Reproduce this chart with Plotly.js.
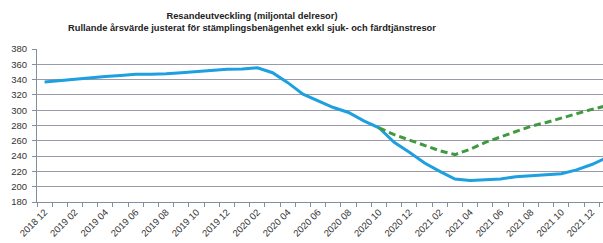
<!DOCTYPE html>
<html><head><meta charset="utf-8">
<script src="https://cdn.plot.ly/plotly-3.0.1.min.js"></script>
<style>html,body{margin:0;padding:0;background:#fff}#c{width:603px;height:243px}</style>
</head><body><div id="c"></div>
<script>
const months = ["2018 12","2019 01","2019 02","2019 03","2019 04","2019 05","2019 06","2019 07","2019 08","2019 09","2019 10","2019 11","2019 12",
"2020 01","2020 02","2020 03","2020 04","2020 05","2020 06","2020 07","2020 08","2020 09","2020 10","2020 11","2020 12",
"2021 01","2021 02","2021 03","2021 04","2021 05","2021 06","2021 07","2021 08","2021 09","2021 10","2021 11","2021 12","2022 01"];
const actual = [337,339,340,342,344,345.5,347,347,347.5,349,350.5,352,353.5,354,355.5,349,336,321,312.5,303.5,297,286,277,258,245,231,220,210,208,209,210,213,214.5,215.5,217,222,229,238];
const forecast = [null,null,null,null,null,null,null,null,null,null,null,null,null,null,null,null,null,null,null,null,null,null,277,268,261,254,247,242,249,258,265,272,279,284,290,296,301,306];
const yTicks = [180,200,220,240,260,280,300,320,340,360,380];

const idx = months.map((_, i) => i);
const labelIdx = idx.filter(i => i % 2 === 0 && i <= 36);

const traces = [
  {x: idx, y: actual, type: 'scatter', mode: 'lines', line: {color: '#1d9fe0', width: 3}, hoverinfo: 'skip'},
  {x: idx, y: forecast, type: 'scatter', mode: 'lines', line: {color: '#3f9a3f', width: 3, dash: '7px,4px'}, hoverinfo: 'skip'}
];
const layout = {
  width: 603, height: 243,
  margin: {l: 37, r: 0, t: 49, b: 41},
  paper_bgcolor: '#fff', plot_bgcolor: '#fff',
  showlegend: false,
  font: {family: 'Liberation Sans, Arial, sans-serif', color: '#333'},
  title: {
    text: '<b>Resandeutveckling (miljontal delresor)</b><br><b>Rullande årsvärde justerat för stämplingsbenägenhet exkl sjuk- och färdtjänstresor</b>',
    font: {size: 9.3, color: '#222'},
    xref: 'container', x: 252/603, xanchor: 'center',
    yref: 'container', y: 1 - 19/243, yanchor: 'top'
  },
  xaxis: {
    type: 'linear', range: [-0.5, 36.74],
    tickmode: 'array', tickvals: labelIdx, ticktext: labelIdx.map(i => months[i]),
    tickangle: -45, tickfont: {size: 9.5, color: '#333'},
    ticks: '', showgrid: false, zeroline: false,
    showline: true, linecolor: '#8090a0', linewidth: 1,
    minor: {tickmode: 'linear', tick0: 0.5, dtick: 1, ticks: 'outside', ticklen: 4, tickcolor: '#8090a0', showgrid: false}
  },
  yaxis: {
    range: [180, 380], tickmode: 'array', tickvals: yTicks,
    tickfont: {size: 9.5, color: '#333'},
    ticks: 'outside', ticklen: 4, tickcolor: '#8090a0', ticklabelstandoff: 3,
    showgrid: true, gridcolor: '#9a9aa8', gridwidth: 1,
    zeroline: false, showline: true, linecolor: '#8090a0', linewidth: 1
  }
};
Plotly.newPlot('c', traces, layout, {staticPlot: true, displayModeBar: false});
</script></body></html>
